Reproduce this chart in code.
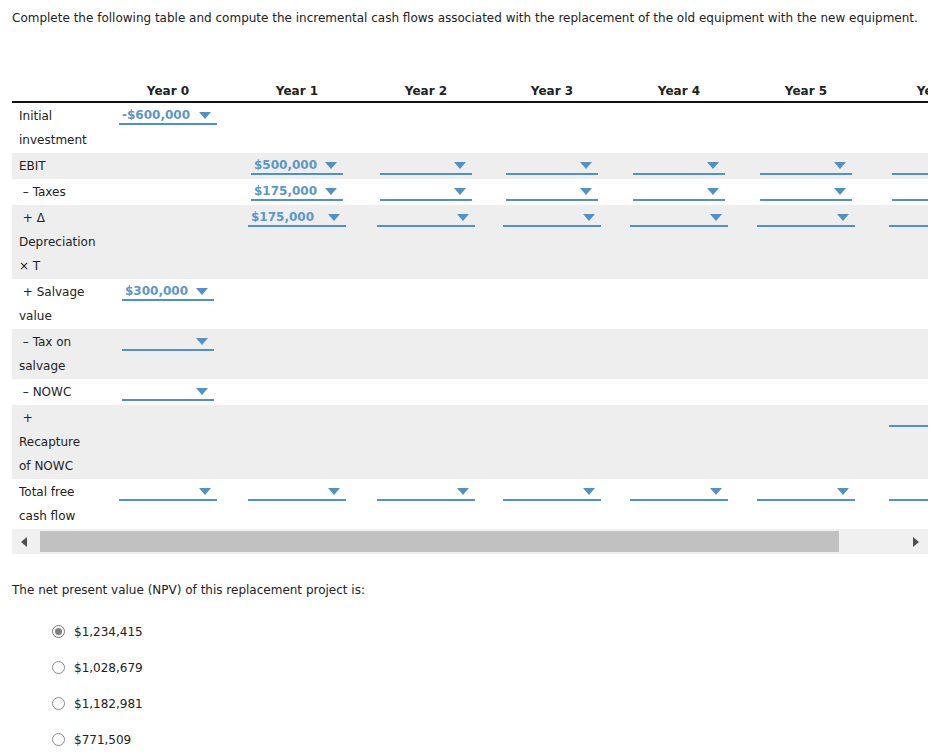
<!DOCTYPE html>
<html>
<head>
<meta charset="utf-8">
<script src="https://cdn.jsdelivr.net/npm/chart.js@4.4.1/dist/chart.umd.min.js"></script>
<style>
body{margin:0;background:#fff;font-family:"DejaVu Sans",Verdana,sans-serif;font-size:12px;color:#222;}
#page{position:relative;width:945px;height:754px;overflow:hidden;}
.t{position:absolute;white-space:pre;line-height:20px;}
.b{position:absolute;}
.tri{position:absolute;width:0;height:0;border-left:6.5px solid transparent;border-right:6.5px solid transparent;border-top:7px solid #5291c8;}
.val{position:absolute;white-space:pre;line-height:20px;font-weight:bold;color:#5b97cc;font-size:12px;}
.hd{position:absolute;white-space:pre;line-height:20px;font-weight:bold;color:#222;transform:translateX(-50%);}
.radio{position:absolute;width:11px;height:11px;border:1px solid #8a8a8a;border-radius:50%;background:#fff;}
</style>
</head>
<body>
<div id="page"></div>
<script>
// texts and values
const titleText = "Complete the following table and compute the incremental cash flows associated with the replacement of the old equipment with the new equipment.";
const years = ["Year 0","Year 1","Year 2","Year 3","Year 4","Year 5","Year 6"];
const rowLabels = [
  ["Initial","investment"],
  ["EBIT"],
  [" \u2013 Taxes"],
  [" + \u0394","Depreciation","\u00d7 T"],
  [" + Salvage","value"],
  [" \u2013 Tax on","salvage"],
  [" \u2013 NOWC"],
  [" +","Recapture","of NOWC"],
  ["Total free","cash flow"]
];
// which year columns hold a dropdown in each row
const dropCols = [
  [0],
  [1,2,3,4,5,6],
  [1,2,3,4,5,6],
  [1,2,3,4,5,6],
  [0],
  [0],
  [0],
  [6],
  [0,1,2,3,4,5,6]
];
// chosen values: [row, col, text]
const chosen = [
  [0,0,"-$600,000"],
  [1,1,"$500,000"],
  [2,1,"$175,000"],
  [3,1,"$175,000"],
  [4,0,"$300,000"]
];
const npvQuestion = "The net present value (NPV) of this replacement project is:";
const npvOptions = ["$1,234,415","$1,028,679","$1,182,981","$771,509"];
const npvSelected = 0;

// layout
const page = document.getElementById("page");
const tableLeft = 12, tableRight = 928;
const colCenter = [168, 297, 426, 552, 679, 806, 938];
const rowLines = [2,1,1,3,2,2,1,3,2];
const rowShade = [false,true,false,true,false,true,false,true,false];
const dropWide = [98,92,92,98,92,92,92,98,98];
const headerY = 90;

function add(cls, x, y, txt, css){
  const d = document.createElement("div");
  d.className = cls;
  d.style.left = x + "px"; d.style.top = y + "px";
  if (txt !== undefined) d.textContent = txt;
  if (css) Object.assign(d.style, css);
  page.appendChild(d);
  return d;
}

add("t", 12, 8, titleText);

// table clip box (the table scrolls sideways, Year 6 is cut off)
const clip = add("b", tableLeft, 70, undefined, {width:(tableRight-tableLeft)+"px", height:"460px", overflow:"hidden"});
function addc(cls, x, y, txt, css){
  const d = add(cls, x - tableLeft, y - 70, txt, css);
  clip.appendChild(d);
  return d;
}

years.forEach((y,i) => addc("hd", colCenter[i], headerY-9, y));
addc("b", tableLeft, 101, undefined, {width:"920px", height:"2px", background:"#111"});

let curTop = 103;
const rowTop = [];
rowLabels.forEach((lines, r) => {
  const h = rowLines[r] === 1 ? 26 : (rowLines[r] === 2 ? 50 : 74);
  rowTop.push(curTop);
  if (rowShade[r]) addc("b", tableLeft, curTop, undefined, {width:"920px", height:h+"px", background:"#eeeeee"});
  lines.forEach((ln, k) => addc("t", 19, curTop + 3 + k*24, ln));
  dropCols[r].forEach(c => {
    const w = dropWide[r];
    const left = colCenter[c] - w/2;
    addc("b", left, curTop + 20, undefined, {width:w+"px", height:"2px", background:"#5291c8"});
    addc("tri", left + w - 18, curTop + 9);
  });
  curTop += h;
});
chosen.forEach(([r, c, txt]) => {
  const w = dropWide[r];
  const left = colCenter[c] - w/2;
  addc("val", left + 3, rowTop[r] + 2, txt);
});

// horizontal scrollbar
add("b", tableLeft, 529, undefined, {width:"916px", height:"25px", background:"#f0f0f0"});
add("b", 40, 531, undefined, {width:"799px", height:"21px", background:"#c1c1c1"});
add("b", 21, 537, undefined, {width:0, height:0, borderTop:"5px solid transparent", borderBottom:"5px solid transparent", borderRight:"6px solid #505050"});
add("b", 913, 537, undefined, {width:0, height:0, borderTop:"5px solid transparent", borderBottom:"5px solid transparent", borderLeft:"6px solid #505050"});

add("t", 12, 580, npvQuestion);
npvOptions.forEach((o, i) => {
  const cy = 631 + i*36;
  const rb = add("radio", 52, cy - 6.5);
  if (i === npvSelected) {
    rb.style.borderColor = "#7a7a7a";
    const dot = document.createElement("div");
    Object.assign(dot.style, {position:"absolute", left:"2px", top:"2px", width:"7px", height:"7px", borderRadius:"50%", background:"#808080"});
    rb.appendChild(dot);
  }
  add("t", 74, cy - 9, o);
});
</script>
</body>
</html>
